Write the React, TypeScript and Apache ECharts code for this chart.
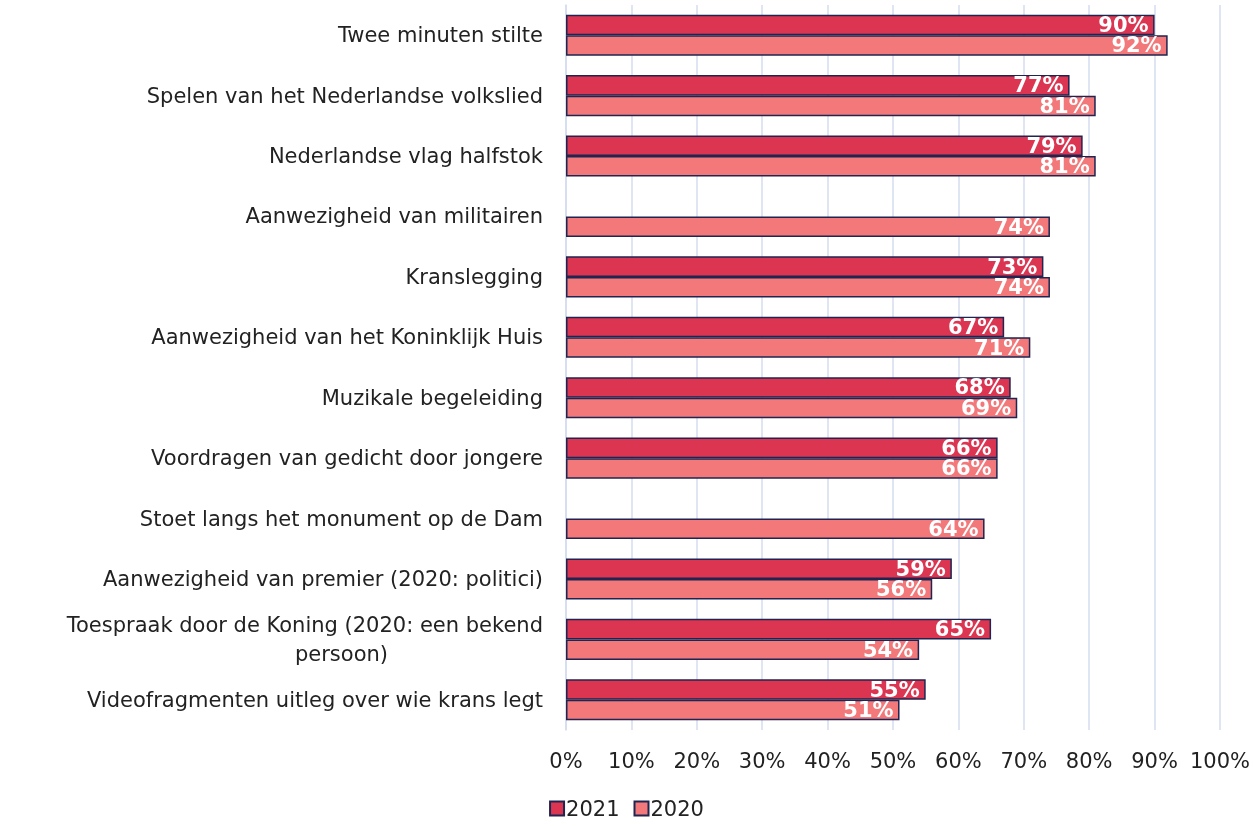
import React, { useEffect, useRef } from "react";
import * as echarts from "echarts";

const categories = [
  "Twee minuten stilte",
  "Spelen van het Nederlandse volkslied",
  "Nederlandse vlag halfstok",
  "Aanwezigheid van militairen",
  "Kranslegging",
  "Aanwezigheid van het Koninklijk Huis",
  "Muzikale begeleiding",
  "Voordragen van gedicht door jongere",
  "Stoet langs het monument op de Dam",
  "Aanwezigheid van premier (2020: politici)",
  "Toespraak door de Koning (2020: een bekend persoon)",
  "Videofragmenten uitleg over wie krans legt",
];
const values2021 = [90, 77, 79, null, 73, 67, 68, 66, null, 59, 65, 55];
const values2020 = [92, 81, 81, 74, 74, 71, 69, 66, 64, 56, 54, 51];
const seriesNames = ["2021", "2020"];

const FONT = "DejaVu Sans";
const FS = 21;

export default function App() {
  const ref = useRef<HTMLDivElement>(null);
  useEffect(() => {
    if (!ref.current) return;
    const chart = echarts.init(ref.current, null, { renderer: "svg" });
    const label = {
      show: true,
      position: "insideRight",
      distance: 6,
      color: "#ffffff",
      fontWeight: "bold",
      fontSize: 21,
      fontFamily: FONT,
      formatter: "{c}%",
    };
    chart.setOption({
      animation: false,
      grid: { left: 566, right: 33, top: 5, bottom: 96, containLabel: false },
      xAxis: {
        type: "value",
        min: 0,
        max: 100,
        interval: 10,
        axisLabel: {
          formatter: "{value}%",
          fontSize: FS,
          fontFamily: FONT,
          color: "#222",
          margin: 20,
        },
        axisLine: { show: false },
        axisTick: { show: false },
        splitLine: { show: true, lineStyle: { color: "#D6DDF0", width: 1.5 } },
      },
      yAxis: {
        type: "category",
        data: categories,
        inverse: true,
        axisTick: { show: false },
        axisLine: { show: true, lineStyle: { color: "#D6DDF0", width: 1.5 } },
        axisLabel: {
          fontSize: FS,
          fontFamily: FONT,
          color: "#222",
          margin: 23,
          lineHeight: 29,
          formatter: (v: string) =>
            v === categories[10]
              ? "{a|Toespraak door de Koning (2020: een bekend}\n{b|persoon)}"
              : v,
          rich: {
            a: { fontSize: FS, fontFamily: FONT, color: "#222", lineHeight: 29 },
            b: {
              fontSize: FS,
              fontFamily: FONT,
              color: "#222",
              lineHeight: 29,
              padding: [0, 155, 0, 0],
            },
          },
        },
      },
      legend: {
        bottom: 2,
        left: "center",
        icon: "rect",
        itemWidth: 14,
        itemHeight: 14,
        itemGap: 14,
        textStyle: { fontSize: FS, fontFamily: FONT, color: "#222", padding: [0, 0, 0, -3] },
        data: seriesNames,
      },
      series: [
        {
          name: seriesNames[0],
          type: "bar",
          data: values2021,
          barGap: "0%",
          barCategoryGap: "32%",
          itemStyle: { color: "#DC3552", borderColor: "#1F2550", borderWidth: 1.5 },
          label,
        },
        {
          name: seriesNames[1],
          type: "bar",
          data: values2020,
          barGap: "0%",
          barCategoryGap: "32%",
          itemStyle: { color: "#F2787A", borderColor: "#1F2550", borderWidth: 1.5 },
          label,
        },
      ],
    });
    return () => chart.dispose();
  }, []);
  return (
    <div
      ref={ref}
      style={{ position: "fixed", left: 0, top: 0, width: 1253, height: 826 }}
    />
  );
}
